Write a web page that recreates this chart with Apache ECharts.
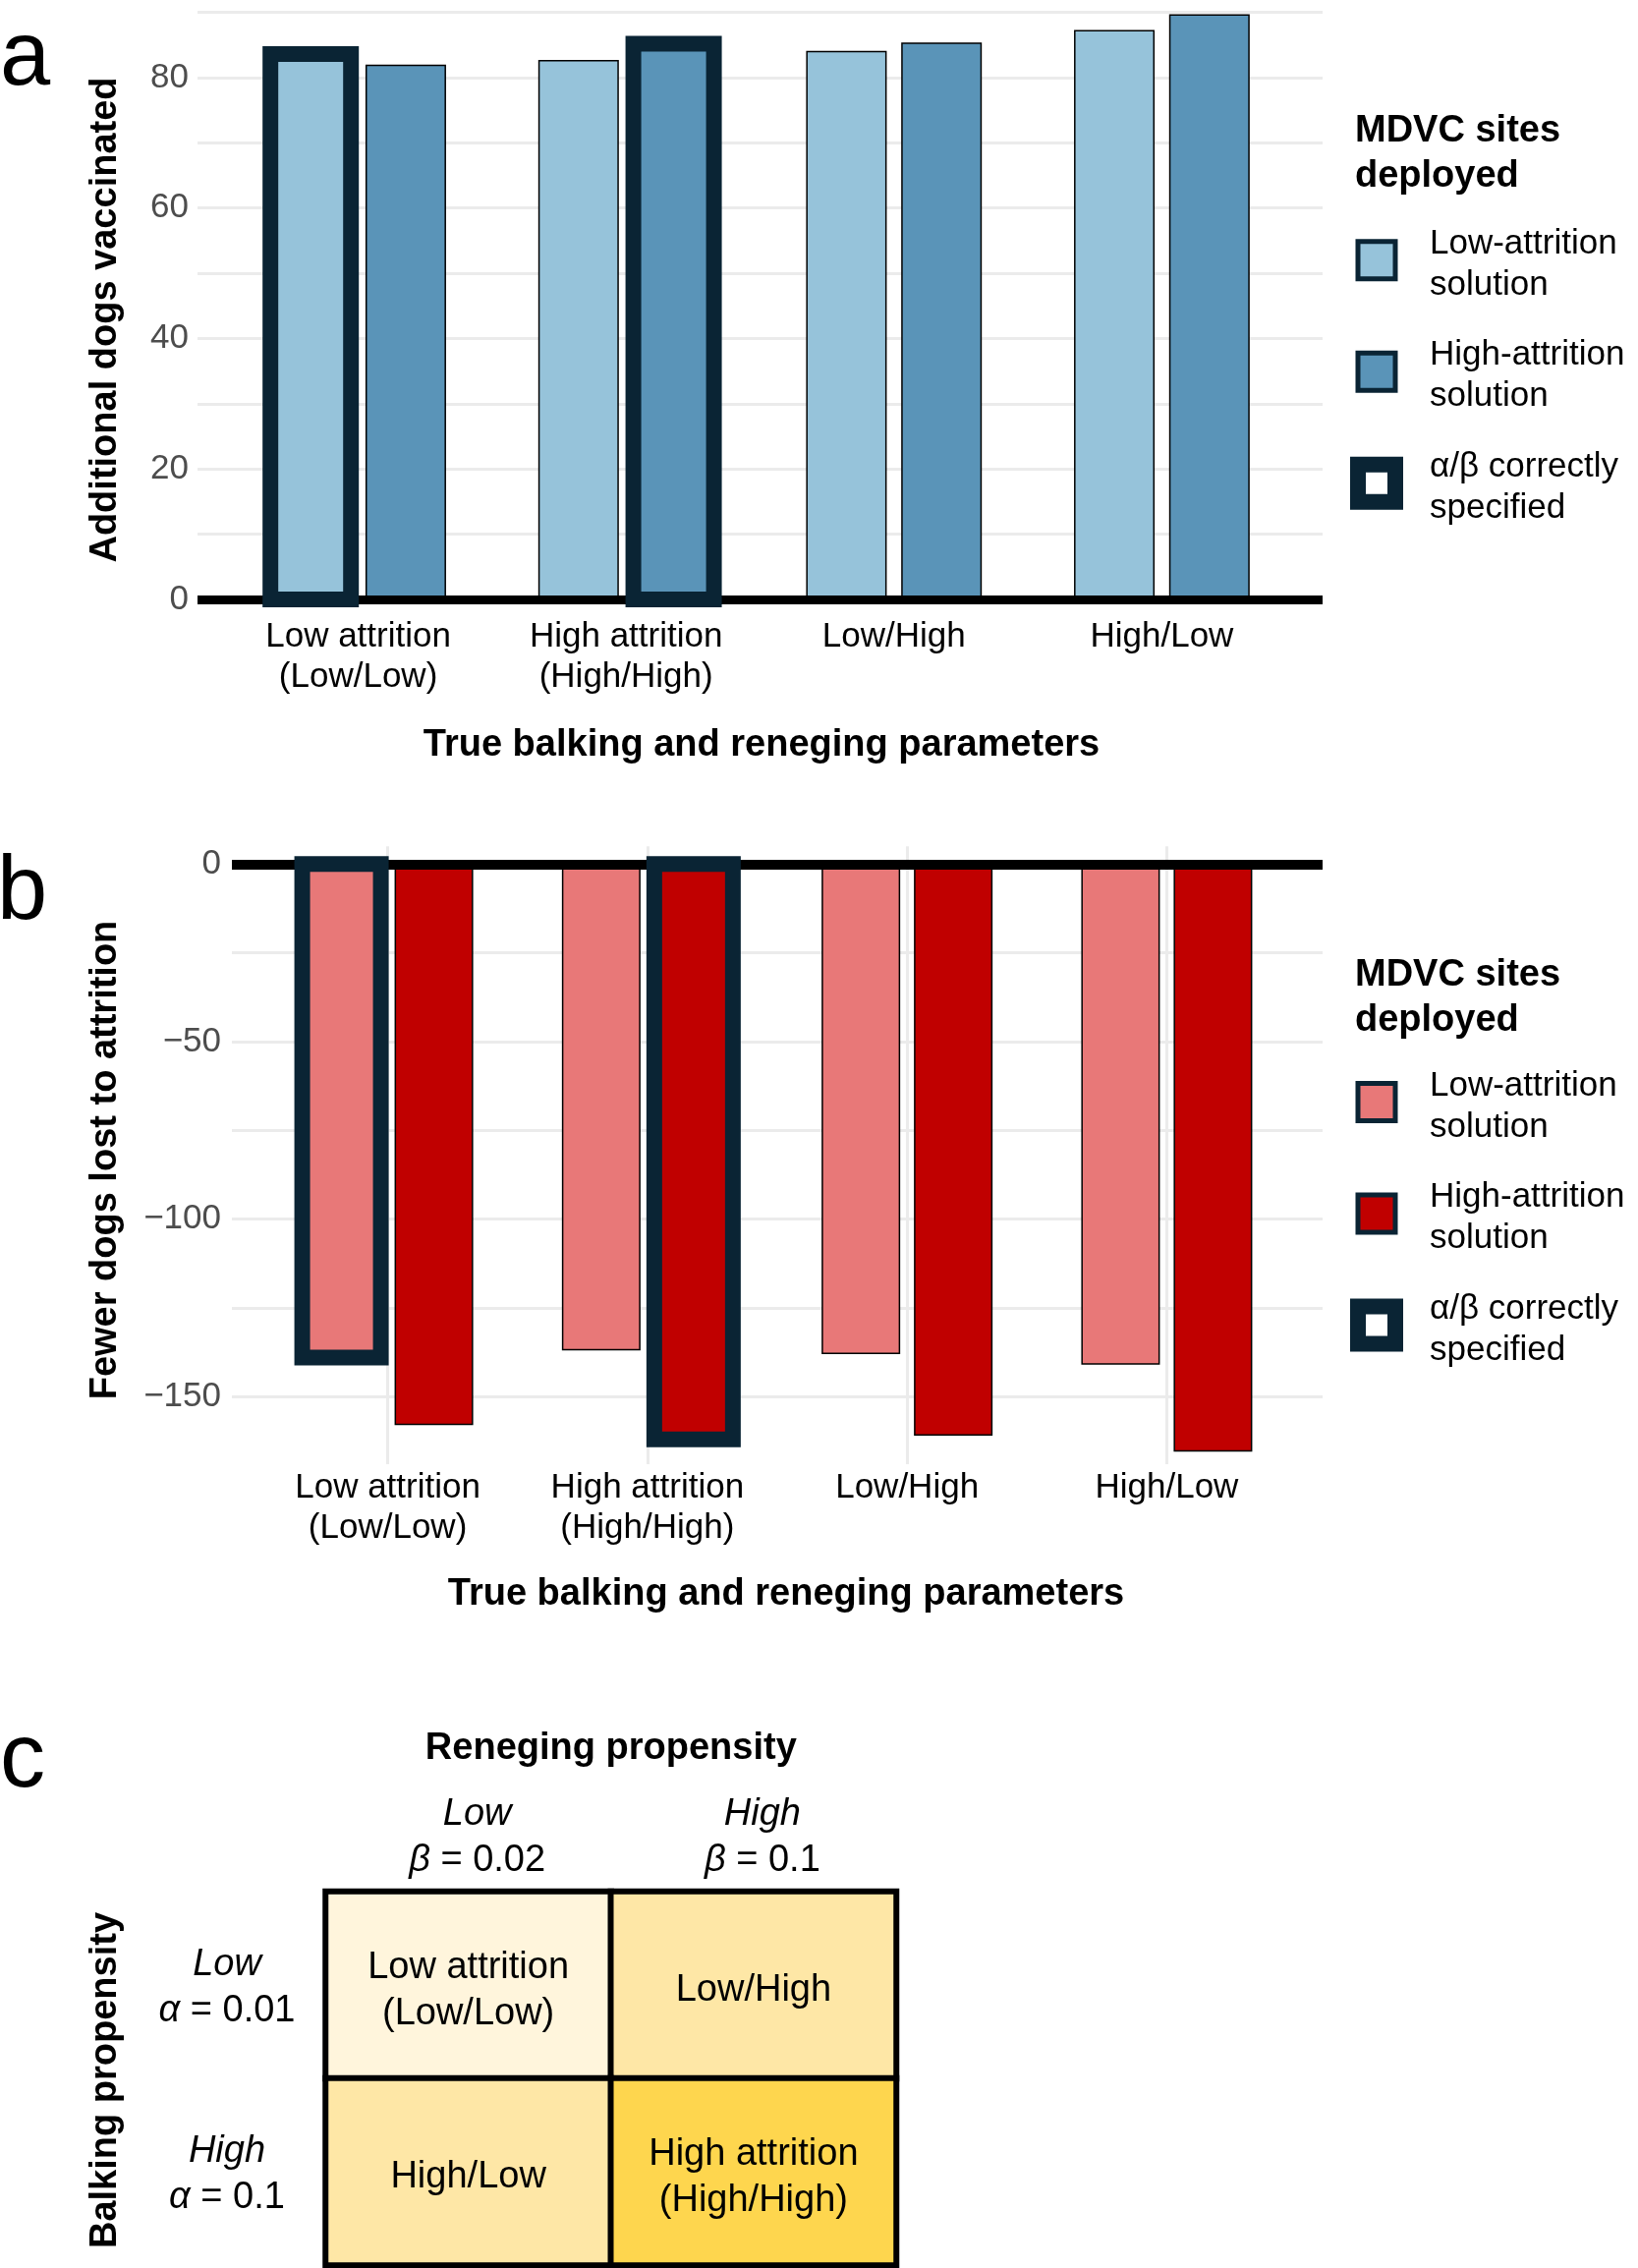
<!DOCTYPE html>
<html><head><meta charset="utf-8">
<script src="https://cdn.jsdelivr.net/npm/echarts@6/dist/echarts.min.js"></script>
<style>html,body{margin:0;padding:0;background:#fff}#c{width:1667px;height:2308px}</style>
</head><body><div id="c"></div>
<script>
// ---------------- data ----------------
const scenarios = ['Low attrition\n(Low/Low)', 'High attrition\n(High/High)', 'Low/High', 'High/Low'];
const solutions = ['Low-attrition solution', 'High-attrition solution'];
const correctLabel = 'α/β correctly specified';
// which solution (0 = low-attrition, 1 = high-attrition) has alpha/beta correctly specified; -1 = none
const correctSolution = [0, 1, -1, -1];
// panel a: additional dogs vaccinated
const vaccinatedLow  = [83.6, 82.7, 84.1, 87.3];
const vaccinatedHigh = [82.0, 85.2, 85.4, 89.7];
const vaccGridTicks  = [0, 10, 20, 30, 40, 50, 60, 70, 80, 90];
const vaccTickLabels = [0, 20, 40, 60, 80];
// panel b: fewer dogs lost to attrition
const lostLow  = [-139, -137, -138, -141];
const lostHigh = [-158, -162, -161, -165.5];
const lostGridTicks  = [-150, -125, -100, -75, -50, -25, 0];
const lostTickLabels = [-150, -100, -50, 0];
// panel c: parameter grid
const renegingLevels = ['Low', 'High'];
const betaValues = ['0.02', '0.1'];
const balkingLevels = ['Low', 'High'];
const alphaValues = ['0.01', '0.1'];
const cellNames = [['Low attrition\n(Low/Low)', 'Low/High'], ['High/Low', 'High attrition\n(High/High)']];
const attritionLevel = [[0, 1], [1, 2]];
const legendText = {
  'Low-attrition solution': ['Low-attrition', 'solution'],
  'High-attrition solution': ['High-attrition', 'solution'],
  'α/β correctly specified': ['α/β correctly', 'specified']
};

// ---------------- styles ----------------
const C = {
  lightBlue: '#96c3da', darkBlue: '#5a94b8', pink: '#e87878', red: '#c00000',
  navy: '#0a2434', grid: '#ebebeb', tick: '#4d4d4d',
  heat: ['#fff5dc', '#fee7a6', '#fed64e']
};
const SANS = 'Liberation Sans';

const pos = scenarios.map((_, i) => i + 1);
const pairs = vals => vals.map((v, i) => [pos[i], v]);

const panels = [
  { key: 'a', grid: { left: 201, top: 0, width: 1145, height: 623.9 }, yMin: -2.1, yMax: 91.9,
    ticks: vaccGridTicks, labels: vaccTickLabels, vals: [vaccinatedLow, vaccinatedHigh],
    colors: [C.lightBlue, C.darkBlue], barW: 82, gap: 0.18, zeroW: 9, vSplit: false, labelMargin: 9,
    legendTop: 221.7 },
  { key: 'b', grid: { left: 236, top: 861.2, width: 1110, height: 628.8 }, yMin: -169, yMax: 5,
    ticks: lostGridTicks, labels: lostTickLabels, vals: [lostLow, lostHigh],
    colors: [C.pink, C.red], barW: 80, gap: 0.175, zeroW: 10, vSplit: true, labelMargin: 11,
    legendTop: 1078.5 }
];

const grids = [], xAxes = [], yAxes = [], series = [], legends = [];
panels.forEach((p, k) => {
  grids.push(Object.assign({ outerBoundsMode: 'none', containLabel: false }, p.grid));
  xAxes.push({
    type: 'value', gridIndex: k, min: 0.4, max: 4.6,
    axisLine: { show: false, onZero: false },
    axisTick: { show: false, customValues: pos },
    axisLabel: { customValues: pos, formatter: v => scenarios[Math.round(v) - 1] || '',
      color: '#000', fontFamily: SANS, fontSize: 35, lineHeight: 41, margin: 4 },
    splitLine: { show: p.vSplit, lineStyle: { color: C.grid, width: 3 } },
    minorTick: { show: false }, minorSplitLine: { show: false }
  });
  yAxes.push({
    type: 'value', gridIndex: k, min: p.yMin, max: p.yMax,
    axisLine: { show: false, onZero: false },
    axisTick: { show: false, customValues: p.ticks },
    axisLabel: { customValues: p.labels, formatter: v => v < 0 ? '\u2212' + Math.abs(v) : String(v),
      color: C.tick, fontFamily: SANS, fontSize: 35, margin: p.labelMargin },
    splitLine: { show: true, lineStyle: { color: C.grid, width: 3 } },
    minorTick: { show: false }, minorSplitLine: { show: false }
  });
  solutions.forEach((s, j) => {
    const ser = {
      type: 'bar', name: p.key + ':' + s, xAxisIndex: k, yAxisIndex: k,
      data: pairs(p.vals[j]), barWidth: p.barW, barGap: (p.gap * 100) + '%',
      itemStyle: { color: p.colors[j], borderColor: '#000', borderWidth: 1.5 },
      emphasis: { disabled: true }, z: 2
    };
    if (j === 0) {
      ser.markLine = { silent: true, symbol: ['none', 'none'], label: { show: false },
        lineStyle: { color: '#000', width: p.zeroW, type: 'solid' }, emphasis: { disabled: true },
        data: [{ yAxis: 0 }] };
    }
    series.push(ser);
  });
  // outline for the solution whose alpha/beta match the true parameters
  const hl = [];
  correctSolution.forEach((s, i) => { if (s >= 0) hl.push([pos[i], p.vals[s][i], s]); });
  series.push({
    type: 'custom', name: p.key + ':' + correctLabel, xAxisIndex: k, yAxisIndex: k, z: 6,
    encode: { x: 0, y: 1 }, data: hl, silent: true,
    renderItem: (params, api) => {
      const x = api.value(0), v = api.value(1), s = api.value(2);
      const base = api.coord([x, 0]), top = api.coord([x, v]);
      const off = (s === 0 ? -1 : 1) * p.barW * (1 + p.gap) / 2;
      const cx = base[0] + off;
      return { type: 'rect',
        shape: { x: cx - p.barW / 2, y: Math.min(base[1], top[1]), width: p.barW, height: Math.abs(top[1] - base[1]) },
        style: { fill: 'none', stroke: C.navy, lineWidth: 16 } };
    }
  });
  legends.push({
    orient: 'vertical', left: 1374, top: p.legendTop, padding: 0, selectedMode: false,
    itemWidth: 38, itemHeight: 38, itemGap: 27.5, icon: 'rect',
    textStyle: { color: '#000', fontFamily: SANS, fontSize: 35, padding: [0, 0, 0, 30],
      rich: {
        s: { fontSize: 2, lineHeight: 9 },
        t: { color: '#000', fontFamily: SANS, fontSize: 35, lineHeight: 42 }
      } },
    formatter: name => { const t = legendText[name.slice(2)]; return '{s| }\n{t|' + t[0] + '}\n{t|' + t[1] + '}'; },
    data: [
      { name: p.key + ':' + solutions[0], icon: 'rect', itemStyle: { color: p.colors[0], borderColor: C.navy, borderWidth: 5 } },
      { name: p.key + ':' + solutions[1], icon: 'rect', itemStyle: { color: p.colors[1], borderColor: C.navy, borderWidth: 5 } },
      { name: p.key + ':' + correctLabel, icon: 'rect', itemStyle: { color: '#ffffff', borderColor: C.navy, borderWidth: 16 } }
    ]
  });
});

// ---------------- panel c ----------------
grids.push({ left: 331.5, top: 1925, width: 580.5, height: 380, outerBoundsMode: 'none', containLabel: false });
const richC = {
  it: { fontStyle: 'italic', fontFamily: SANS, fontSize: 38, lineHeight: 47, color: '#000' },
  rm: { fontFamily: SANS, fontSize: 38, lineHeight: 47, color: '#000' }
};
xAxes.push({
  type: 'category', gridIndex: 2, position: 'top', data: renegingLevels,
  axisLine: { show: false }, axisTick: { show: false }, splitLine: { show: false },
  axisLabel: { interval: 0, margin: 8, lineHeight: 47, rich: richC, padding: [0, 0, 0, 18],
    formatter: (v, i) => '{it|' + renegingLevels[i] + '}\n{it|β}{rm| = ' + betaValues[i] + '}' }
});
yAxes.push({
  type: 'category', gridIndex: 2, inverse: true, data: balkingLevels,
  axisLine: { show: false }, axisTick: { show: false }, splitLine: { show: false },
  axisLabel: { interval: 0, margin: 100.5, align: 'center', lineHeight: 47, rich: richC, padding: [6, 0, 0, 0],
    formatter: (v, i) => '{it|' + balkingLevels[i] + '}\n{it|α}{rm| = ' + alphaValues[i] + '}' }
});
const heatData = [];
attritionLevel.forEach((row, r) => row.forEach((lvl, c) => heatData.push({ value: [c, r, lvl], name: cellNames[r][c] })));
const heatIdx = series.length;
series.push({
  type: 'heatmap', name: 'grid', xAxisIndex: 2, yAxisIndex: 2, data: heatData,
  itemStyle: { borderColor: '#000', borderWidth: 6 },
  label: { show: true, formatter: '{b}', color: '#000', fontFamily: SANS, fontSize: 38, lineHeight: 47, offset: [0, 6] },
  emphasis: { disabled: true }
});

// ---------------- text elements ----------------
function txt(text, x, y, font, o) {
  o = o || {};
  const style = { text: text, font: font, fill: '#000',
    align: o.align || 'center', textAlign: o.align || 'center',
    verticalAlign: 'middle', textVerticalAlign: 'middle' };
  if (o.lineHeight) { style.lineHeight = o.lineHeight; }
  return { type: 'text', x: x, y: y, rotation: o.rot || 0, z: 100, silent: true, style: style };
}
const TB = 'bold 38px "' + SANS + '"';
const TAG = '92px "' + SANS + '"';
const graphics = [
  txt('a', 0, 61, TAG, { align: 'left' }),
  txt('b', -3, 910, TAG, { align: 'left' }),
  txt('c', 0, 1793, TAG, { align: 'left' }),
  txt('Additional dogs vaccinated', 108, 325.5, TB, { rot: Math.PI / 2 }),
  txt('True balking and reneging parameters', 775, 759, TB),
  txt('MDVC sites\ndeployed', 1379, 157, TB, { align: 'left', lineHeight: 46 }),
  txt('Fewer dogs lost to attrition', 108, 1180.5, TB, { rot: Math.PI / 2 }),
  txt('True balking and reneging parameters', 800, 1623, TB),
  txt('MDVC sites\ndeployed', 1379, 1015.5, TB, { align: 'left', lineHeight: 46 }),
  txt('Reneging propensity', 621.8, 1779.5, TB),
  txt('Balking propensity', 108, 2117, TB, { rot: Math.PI / 2 })
];

const chart = echarts.init(document.getElementById('c'), null, { renderer: 'canvas' });
chart.setOption({
  animation: false,
  backgroundColor: '#ffffff',
  textStyle: { fontFamily: SANS },
  tooltip: { show: false },
  grid: grids, xAxis: xAxes, yAxis: yAxes, legend: legends,
  visualMap: [{ type: 'piecewise', show: false, seriesIndex: heatIdx, dimension: 2,
    pieces: [{ value: 0, color: C.heat[0] }, { value: 1, color: C.heat[1] }, { value: 2, color: C.heat[2] }] }],
  series: series,
  graphic: { elements: graphics }
});
</script></body></html>
